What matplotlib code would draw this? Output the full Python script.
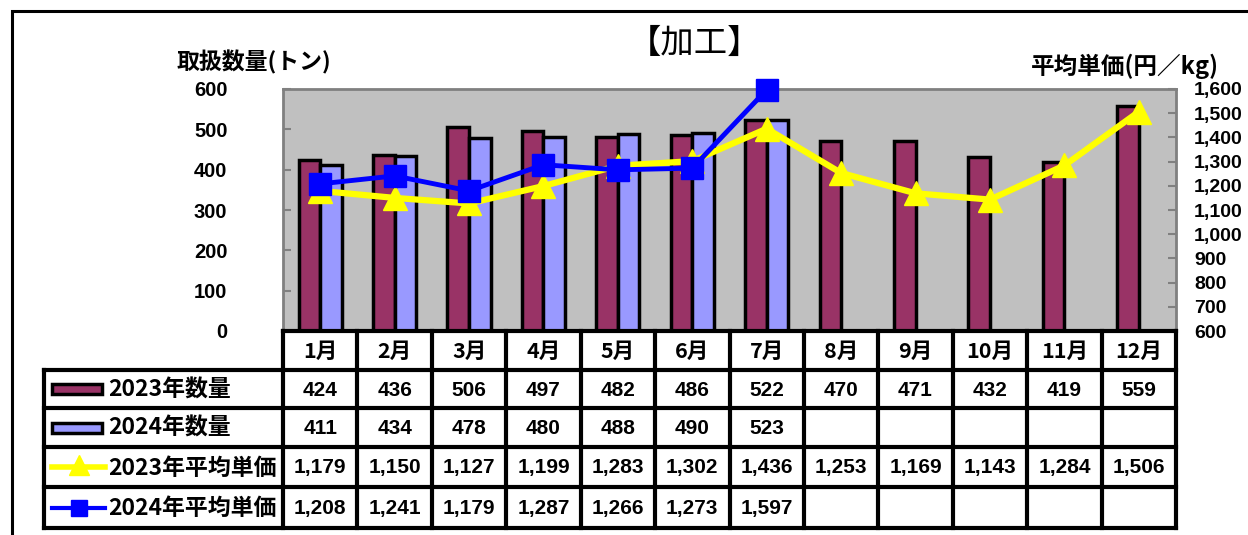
import numpy as np
import matplotlib.pyplot as plt
from matplotlib.patches import Rectangle
from matplotlib.lines import Line2D

plt.rcParams['font.family'] = ['Noto Sans CJK JP', 'DejaVu Sans']

months = ['1月', '2月', '3月', '4月', '5月', '6月', '7月', '8月', '9月', '10月', '11月', '12月']
qty_2023 = [424, 436, 506, 497, 482, 486, 522, 470, 471, 432, 419, 559]
qty_2024 = [411, 434, 478, 480, 488, 490, 523]
price_2023 = [1179, 1150, 1127, 1199, 1283, 1302, 1436, 1253, 1169, 1143, 1284, 1506]
price_2024 = [1208, 1241, 1179, 1287, 1266, 1273, 1597]
row_labels = ['2023年数量', '2024年数量', '2023年平均単価', '2024年平均単価']

W, H = 1248, 535
fig = plt.figure(figsize=(W / 100, H / 100), dpi=100)


def px(x0, y0, x1, y1):
    return [x0 / W, 1 - y1 / H, (x1 - x0) / W, (y1 - y0) / H]


# outer frame
fig.add_artist(Rectangle((12 / W, -0.1), 1.1, (H - 11) / H + 0.1, transform=fig.transFigure,
                         fill=False, lw=2.2, ec='black'))

ax = fig.add_axes(px(283, 89, 1176, 331))
ax.set_facecolor('#C0C0C0')
x = np.arange(12)
bw = 0.29
ax.bar(x - bw / 2, qty_2023, bw, color='#993366', edgecolor='black', lw=2.5, zorder=2)
ax.bar(np.arange(len(qty_2024)) + bw / 2, qty_2024, bw, color='#9999FF', edgecolor='black', lw=2.5, zorder=2)
ax.set_xlim(-0.5, 11.5)
ax.set_ylim(0, 600)
ax.set_yticks(range(0, 601, 100))
ax.set_xticks([])
ax.tick_params(axis='y', direction='in', length=6, color='#808080', width=1.5, pad=40,
               labelsize=14.5)
for lab in ax.get_yticklabels():
    lab.set_fontweight('bold')
    lab.set_fontfamily(['Liberation Sans', 'DejaVu Sans'])
for s in ['left', 'top', 'right']:
    ax.spines[s].set_color('#808080')
    ax.spines[s].set_linewidth(2)
ax.spines['bottom'].set_visible(False)

ax2 = ax.twinx()
ax2.set_ylim(600, 1600)
ax2.set_yticks(range(600, 1601, 100))
ax2.set_yticklabels([f'{v:,}' for v in range(600, 1601, 100)])
ax2.tick_params(axis='y', direction='in', length=6, color='#808080', width=1.5, pad=13,
               labelsize=14)
for lab in ax2.get_yticklabels():
    lab.set_fontweight('bold')
    lab.set_fontfamily(['Liberation Sans', 'DejaVu Sans'])
for s in ax2.spines.values():
    s.set_visible(False)
ax2.plot(x, price_2023, color='#FFFF00', lw=4.5, marker='^', ms=17, zorder=3, clip_on=False)
ax2.plot(np.arange(len(price_2024)), price_2024, color='#0000FF', lw=3.5, marker='s', ms=16,
         zorder=4, clip_on=False)

# titles
fig.text(695 / W, 1 - 43 / H, '【加工】', ha='center', va='center', fontsize=24)
fig.text(254 / W, 1 - 62 / H, '取扱数量(トン)', ha='center', va='center', fontsize=16.5, fontweight='bold')
fig.text(1125 / W, 1 - 66 / H, '平均単価(円／kg)', ha='center', va='center', fontsize=17, fontweight='bold')

# data table
tab = fig.add_axes([0, 0, 1, 1])
tab.set_xlim(0, W)
tab.set_ylim(H, 0)
tab.axis('off')
cols = np.linspace(283, 1176, 13)
rows = [331, 370, 408, 447, 487, 528]
lk = dict(color='black', lw=3, solid_capstyle='projecting')
tab.plot([283, 1176], [331, 331], **lk)
for y in rows[1:]:
    tab.plot([44, 1176], [y, y], **lk)
for c in cols:
    tab.plot([c, c], [331, 528], **lk)
tab.plot([44, 44], [370, 528], **lk)
for i, m in enumerate(months):
    cx = (cols[i] + cols[i + 1]) / 2
    tab.text(cx, 351, m, ha='center', va='center', fontsize=15.5, fontweight='bold')
values = [qty_2023, qty_2024, price_2023, price_2024]
for r, vals in enumerate(values):
    cy = (rows[r + 1] + rows[r + 2]) / 2
    for i, v in enumerate(vals):
        cx = (cols[i] + cols[i + 1]) / 2
        tab.text(cx, cy + 1, f'{v:,}', ha='center', va='center', fontsize=15, fontweight='bold',
                 family=['Liberation Sans', 'DejaVu Sans'])
    tab.text(108, cy + 1, row_labels[r], ha='left', va='center', fontsize=16.5, fontweight='bold')

# legend keys
for r, c in enumerate(['#993366', '#9999FF']):
    cy = (rows[r + 1] + rows[r + 2]) / 2
    tab.add_patch(Rectangle((52, cy - 5), 50, 10, fc=c, ec='black', lw=2.5))
cy = (rows[3] + rows[4]) / 2
tab.add_line(Line2D([52, 105], [cy, cy], color='#FFFF00', lw=4))
tab.plot([79], [cy - 2], marker='^', ms=14, color='#FFFF00')
cy = (rows[4] + rows[5]) / 2
tab.add_line(Line2D([52, 105], [cy, cy], color='#0000FF', lw=3))
tab.plot([79], [cy], marker='s', ms=12, color='#0000FF')

fig.savefig('out.png', dpi=100)
